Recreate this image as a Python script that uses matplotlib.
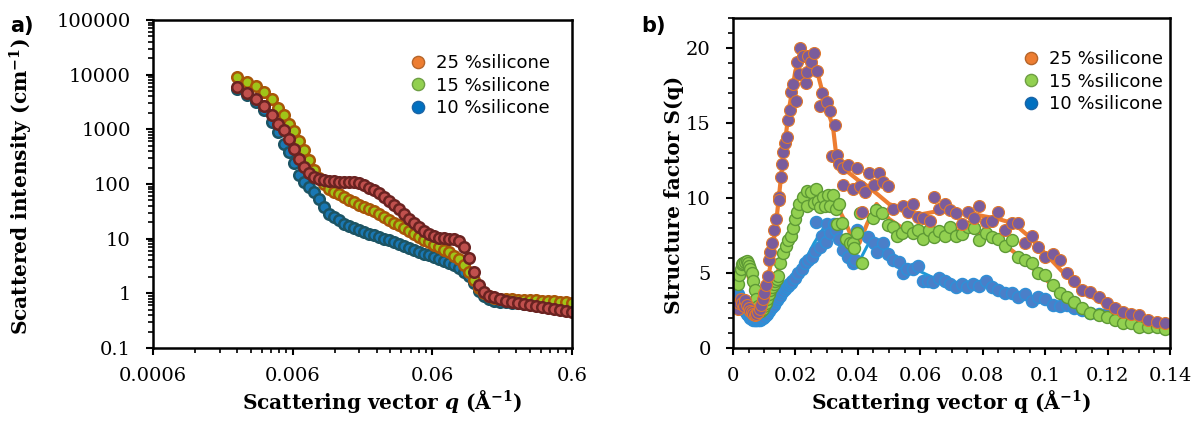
import matplotlib.pyplot as plt
from matplotlib.lines import Line2D
from matplotlib.ticker import FixedLocator, FixedFormatter, LogLocator, MultipleLocator, NullFormatter, FuncFormatter

plt.rcParams["mathtext.fontset"] = "custom"
plt.rcParams["mathtext.rm"] = "DejaVu Serif:bold"
plt.rcParams["mathtext.it"] = "DejaVu Serif:italic:bold"
plt.rcParams["mathtext.bf"] = "DejaVu Serif:bold"

labels = ["25 %silicone", "15 %silicone", "10 %silicone"]

# ---- panel a: scattered intensity vs q (log-log) ----
q_saxs = [0.0024, 0.00283, 0.00328, 0.00374, 0.00427, 0.00471, 0.0052, 0.00565, 0.00613, 0.00666,
          0.00723, 0.00785, 0.00853, 0.00926, 0.0101, 0.0109, 0.0119, 0.0129, 0.014, 0.0152,
          0.0165, 0.0179, 0.0194, 0.0211, 0.0229, 0.0249, 0.027, 0.0293, 0.0319, 0.0346,
          0.0376, 0.0408, 0.0443, 0.0481, 0.0522, 0.0567, 0.0616, 0.0669, 0.0726, 0.0789,
          0.0857, 0.093, 0.101, 0.11, 0.119, 0.129, 0.14, 0.153, 0.166, 0.183,
          0.202, 0.223, 0.246, 0.272, 0.3, 0.331, 0.365, 0.403, 0.445, 0.492, 0.543, 0.6]
I_25 = [5960, 4630, 3600, 2680, 1830, 1255, 975, 667, 438, 288,
        205, 160, 132, 121, 116, 114, 112, 109, 109, 109,
        107, 103, 94.3, 84.9, 76.4, 67.3, 56.9, 49.1, 41.5, 34.3,
        28.4, 23.0, 19.4, 16.4, 13.9, 12.0, 11.0, 10.3, 10.1, 9.92,
        9.71, 8.93, 7.08, 4.46, 2.47, 1.40, 1.07, 0.90, 0.845, 0.777,
        0.73, 0.685, 0.67, 0.643, 0.617, 0.591, 0.567, 0.543, 0.521, 0.50, 0.479, 0.46]
I_15 = [9080, 7360, 6220, 4830, 3600, 2460, 1800, 1230, 915, 614,
        420, 276, 181, 127, 98.3, 81.4, 71.7, 64.5, 58.1, 51.2,
        46.1, 41.5, 37.3, 34.3, 31.6, 27.8, 24.5, 21.6, 19.4, 17.5,
        15.4, 13.6, 12.0, 10.6, 9.31, 8.56, 7.70, 6.93, 6.11, 5.62,
        4.85, 4.27, 3.32, 2.42, 1.77, 1.26, 1.00, 0.882, 0.83, 0.79,
        0.777, 0.777, 0.76, 0.76, 0.745, 0.745, 0.73, 0.73, 0.714, 0.70, 0.685, 0.67]
I_10 = [5480, 4260, 3170, 2260, 1370, 896, 541, 386, 243, 147,
        109, 88.5, 71.7, 53.4, 38.1, 28.4, 24.5, 22.1, 18.3, 16.8,
        15.4, 14.2, 13.3, 12.2, 11.5, 10.8, 9.92, 9.31, 8.56, 7.87,
        7.39, 6.79, 6.24, 5.74, 5.27, 4.95, 4.55, 4.18, 3.85, 3.53,
        3.25, 2.93, 2.47, 2.09, 1.56, 1.11, 0.90, 0.777, 0.73, 0.70,
        0.685, 0.67, 0.656, 0.643, 0.629, 0.617, 0.617, 0.603, 0.591, 0.578, 0.567, 0.567]

# ---- panel b: structure factor S(q) ----
q_s25 = [0.0015, 0.002, 0.0025, 0.003, 0.0035, 0.004, 0.0045, 0.005, 0.0055, 0.006,
         0.0065, 0.007, 0.0075, 0.008, 0.0085, 0.009, 0.0095, 0.010, 0.0105,
         0.0111, 0.0115, 0.0119, 0.0124, 0.0131, 0.0138, 0.0146, 0.0148, 0.0153, 0.0156,
         0.0159, 0.0167, 0.0172, 0.0177, 0.0183, 0.0185, 0.0193, 0.0202, 0.0204, 0.021,
         0.0215, 0.0223, 0.0234, 0.0238, 0.0241, 0.025, 0.0261, 0.0268, 0.0279, 0.0284,
         0.0302, 0.0311, 0.0316, 0.0327, 0.0332, 0.0338, 0.0352, 0.0354, 0.037, 0.0386,
         0.0396, 0.0407, 0.0412, 0.0423, 0.0437, 0.0452, 0.0469, 0.0482, 0.0498, 0.0512,
         0.0544, 0.0562, 0.0578, 0.0594, 0.061, 0.063, 0.0644, 0.0661, 0.0679, 0.0695,
         0.0715, 0.0733, 0.0754, 0.0772, 0.0789, 0.0811, 0.0829, 0.085, 0.0872, 0.0893,
         0.0914, 0.0936, 0.0957, 0.0978, 0.1, 0.1025, 0.1048, 0.1071, 0.1093, 0.1117,
         0.1144, 0.1171, 0.1197, 0.1224, 0.1249, 0.1274, 0.1302, 0.1328, 0.1358, 0.1384]
S_25 = [2.6, 3.0, 3.3, 3.0, 2.8, 3.2, 2.9, 2.7, 2.5, 2.4,
        2.3, 2.2, 2.3, 2.4, 2.6, 2.9, 3.3, 3.7, 4.2,
        4.8, 5.9, 6.4, 7.0, 7.9, 8.6, 10.1, 9.9, 11.4, 12.3,
        13.1, 13.7, 14.1, 15.2, 15.9, 17.1, 17.6, 16.5, 19.1, 18.3,
        19.98, 19.5, 17.7, 18.4, 19.5, 19.1, 19.7, 18.5, 16.1, 17.0,
        16.4, 15.8, 12.8, 14.9, 12.9, 12.3, 10.9, 12.0, 12.2, 10.6,
        12.0, 10.8, 9.1, 10.4, 11.7, 10.9, 11.7, 11.1, 10.8, 9.3,
        9.5, 9.1, 9.6, 8.75, 8.65, 8.5, 10.1, 9.3, 9.6, 9.2,
        9.0, 8.3, 9.1, 8.7, 9.5, 8.4, 8.5, 9.1, 7.9, 8.35,
        8.35, 7.0, 7.5, 6.75, 6.1, 6.3, 5.9, 5.0, 4.5, 3.9,
        3.75, 3.4, 3.0, 2.65, 2.4, 2.25, 2.2, 1.9, 1.75, 1.65]

q_s15 = [0.0015, 0.002, 0.0025, 0.0028, 0.0033, 0.0038, 0.0044, 0.0048, 0.0052, 0.0056,
         0.006, 0.0065, 0.007, 0.0075, 0.008, 0.0085, 0.009, 0.0095, 0.010, 0.0105,
         0.011, 0.0115, 0.012, 0.0125, 0.013, 0.0135, 0.014, 0.0145, 0.0151, 0.0161,
         0.017, 0.0177, 0.0185, 0.0192, 0.0199, 0.0206, 0.0213, 0.0223, 0.0238, 0.0238,
         0.0249, 0.0258, 0.0266, 0.0273, 0.0279, 0.0289, 0.0295, 0.0305, 0.0311, 0.0321,
         0.033, 0.0332, 0.0341, 0.0348, 0.0362, 0.0375, 0.0384, 0.0388, 0.0396, 0.0407,
         0.0412, 0.0449, 0.0458, 0.0476, 0.0498, 0.0514, 0.0525, 0.054, 0.0559, 0.0578,
         0.0594, 0.061, 0.0629, 0.0644, 0.0661, 0.0679, 0.0695, 0.0715, 0.0733, 0.0754,
         0.0772, 0.0789, 0.0811, 0.0829, 0.085, 0.0872, 0.0893, 0.0914, 0.0936, 0.0957,
         0.0978, 0.1, 0.1025, 0.1046, 0.1069, 0.1093, 0.1117, 0.1144, 0.1171, 0.1197,
         0.1224, 0.1249, 0.1274, 0.1302, 0.1328, 0.1358, 0.1384]
S_15 = [4.3, 4.9, 5.3, 5.6, 5.7, 5.75, 5.8, 5.7, 5.5, 5.3,
        5.0, 4.5, 3.9, 3.3, 2.8, 2.6, 2.5, 2.6, 2.8, 3.0,
        3.3, 3.6, 3.9, 4.1, 4.3, 4.5, 4.6, 4.8, 5.65, 6.35,
        6.8, 7.2, 7.5, 8.0, 8.6, 9.1, 9.6, 10.1, 10.5, 9.45,
        10.4, 9.7, 10.6, 9.8, 9.4, 10.1, 9.5, 10.2, 9.5, 10.2,
        9.3, 8.3, 9.6, 8.35, 7.3, 7.0, 7.0, 6.65, 7.65, 9.0,
        5.65, 8.65, 9.2, 9.0, 8.2, 8.1, 7.5, 7.7, 8.05, 7.7,
        7.9, 7.3, 7.9, 7.4, 7.8, 7.5, 8.1, 7.5, 7.6, 8.05,
        8.0, 7.2, 7.7, 7.4, 7.3, 6.8, 7.2, 6.05, 5.9, 5.7,
        5.0, 4.9, 4.2, 3.7, 3.4, 3.1, 2.65, 2.35, 2.2, 2.1,
        1.9, 1.7, 1.65, 1.4, 1.4, 1.4, 1.3]

q_s10 = [0.0015, 0.002, 0.0025, 0.003, 0.0035, 0.004, 0.0045, 0.005, 0.0055, 0.006,
         0.0065, 0.007, 0.0075, 0.008, 0.0085, 0.009, 0.0095, 0.010, 0.0105, 0.011,
         0.0115, 0.012, 0.0125, 0.013, 0.0135, 0.014, 0.0145, 0.015, 0.0155, 0.016,
         0.0165, 0.017, 0.0175, 0.018, 0.0185, 0.019, 0.0199, 0.0209, 0.022, 0.0231,
         0.0241, 0.0252, 0.0263, 0.0265, 0.0279, 0.0284, 0.0298, 0.0302, 0.0311, 0.0322,
         0.033, 0.0338, 0.0354, 0.037, 0.0386, 0.039, 0.0396, 0.0434, 0.0452, 0.046,
         0.0482, 0.0495, 0.0514, 0.0533, 0.0546, 0.0557, 0.0576, 0.0594, 0.061, 0.0626,
         0.0642, 0.0661, 0.0679, 0.0695, 0.0715, 0.0733, 0.0751, 0.077, 0.0789, 0.0811,
         0.0829, 0.085, 0.0872, 0.0893, 0.0914, 0.0936, 0.0957, 0.0978, 0.1, 0.1025,
         0.1046, 0.1069, 0.1093, 0.1117, 0.1144, 0.1171, 0.1197, 0.1224, 0.125, 0.1274,
         0.13, 0.1328, 0.1358, 0.1384]
S_10 = [3.6, 3.4, 3.1, 2.9, 2.7, 2.5, 2.3, 2.15, 2.0, 1.95,
        1.9, 1.85, 1.85, 1.85, 1.9, 1.95, 2.0, 2.1, 2.2, 2.3,
        2.45, 2.6, 2.75, 2.9, 3.05, 3.2, 3.35, 3.5, 3.65, 3.8,
        3.95, 4.05, 4.15, 4.25, 4.35, 4.45, 4.65, 5.0, 5.3, 5.65,
        5.9, 6.1, 6.5, 8.4, 6.75, 7.5, 7.1, 8.3, 7.65, 8.3,
        7.9, 7.3, 6.55, 6.1, 5.65, 5.9, 7.9, 7.4, 7.0, 6.4,
        7.0, 6.3, 5.9, 5.75, 5.0, 5.3, 5.25, 5.5, 4.5, 4.5,
        4.4, 4.65, 4.5, 4.25, 4.1, 4.25, 4.1, 4.25, 4.15, 4.5,
        4.05, 3.9, 3.7, 3.65, 3.4, 3.6, 3.15, 3.4, 3.25, 2.9,
        2.8, 2.85, 2.7, 2.55, 2.35, 2.25, 2.3, 2.1, 1.95, 1.8,
        1.65, 1.55, 1.45, 1.4]

# smooth guide lines drawn under the markers
q_fit = [0.002, 0.004, 0.006, 0.008, 0.010, 0.012, 0.014, 0.016, 0.018, 0.020,
         0.022, 0.024, 0.026, 0.028, 0.030, 0.032, 0.033, 0.035, 0.037, 0.040,
         0.043, 0.046, 0.050, 0.055, 0.060, 0.065, 0.070, 0.075, 0.080, 0.085,
         0.090, 0.095, 0.100, 0.105, 0.110, 0.115, 0.120, 0.125, 0.130, 0.135, 0.140]
fit_25 = [3.2, 2.9, 2.6, 2.6, 3.5, 5.5, 8.7, 12.6, 16.0, 18.5,
          19.5, 19.6, 19.2, 17.6, 16.0, 14.8, 13.0, 12.2, 11.7, 11.2,
          10.8, 10.3, 9.6, 9.2, 8.9, 9.1, 9.1, 9.0, 8.8, 8.6,
          8.3, 7.4, 6.3, 5.2, 4.2, 3.4, 2.8, 2.4, 2.1, 1.8, 1.6]
q_fit15 = [0.002, 0.004, 0.006, 0.008, 0.010, 0.012, 0.014, 0.016, 0.018, 0.020,
           0.022, 0.025, 0.028, 0.031, 0.034, 0.036, 0.038, 0.0405, 0.043, 0.046,
           0.050, 0.055, 0.060, 0.065, 0.070, 0.075, 0.080, 0.085, 0.090, 0.095,
           0.100, 0.105, 0.110, 0.115, 0.120, 0.125, 0.130, 0.135, 0.140]
fit_15 = [4.8, 5.5, 4.0, 2.4, 3.0, 4.2, 4.8, 6.3, 7.5, 8.8,
          9.9, 10.3, 10.1, 9.8, 9.2, 8.4, 7.4, 7.0, 8.3, 9.6,
          8.6, 7.9, 7.8, 7.7, 7.8, 7.8, 7.6, 7.2, 6.4, 5.5,
          4.6, 3.7, 3.0, 2.5, 2.1, 1.8, 1.6, 1.45, 1.35]
q_fit10 = [0.002, 0.004, 0.006, 0.008, 0.010, 0.012, 0.015, 0.018, 0.020, 0.023,
           0.026, 0.029, 0.031, 0.034, 0.037, 0.0405, 0.044, 0.048, 0.052, 0.056,
           0.060, 0.065, 0.070, 0.075, 0.080, 0.085, 0.090, 0.095, 0.100, 0.105,
           0.110, 0.115, 0.120, 0.125, 0.130, 0.135, 0.140]
fit_10 = [3.4, 2.8, 2.2, 1.9, 2.0, 2.4, 3.2, 4.0, 4.8, 5.8,
          7.0, 8.0, 8.2, 7.4, 6.3, 5.8, 7.2, 6.8, 6.0, 5.4,
          5.1, 4.6, 4.3, 4.2, 4.2, 3.9, 3.6, 3.3, 3.1, 2.85,
          2.65, 2.4, 2.2, 2.0, 1.8, 1.6, 1.5]

serif = "DejaVu Serif"
tick_fs = 14
label_fs = 14.5

fig = plt.figure(figsize=(12.02, 4.23), dpi=100)
W, H = 1202.0, 423.0
ax_a = fig.add_axes([153 / W, 1 - 348 / H, 419 / W, 328 / H])
ax_b = fig.add_axes([733 / W, 1 - 348 / H, 437 / W, 330 / H])

# panel a markers: thick dark edges, overlapping into bands
mk = dict(marker="o", ls="none", ms=7.6, mew=1.8)
ax_a.plot(q_saxs, I_10, mfc="#1a78b4", mec="#1c5464", **mk)
ax_a.plot(q_saxs, I_15, mfc="#a0c418", mec="#a85608", **mk)
ax_a.plot(q_saxs, I_25, mfc="#c0504d", mec="#6a2321", **mk)

ax_a.set_xscale("log")
ax_a.set_yscale("log")
ax_a.set_xlim(0.0006, 0.6)
ax_a.set_ylim(0.1, 100000)
xmaj = [0.0006, 0.006, 0.06, 0.6]
ax_a.xaxis.set_major_locator(FixedLocator(xmaj))
ax_a.xaxis.set_major_formatter(FixedFormatter(["0.0006", "0.006", "0.06", "0.6"]))
ax_a.xaxis.set_minor_locator(FixedLocator([m * k for m in xmaj[:3] for k in range(2, 10)]))
ax_a.xaxis.set_minor_formatter(NullFormatter())
ymaj = [0.1, 1, 10, 100, 1000, 10000, 100000]
ax_a.yaxis.set_major_locator(FixedLocator(ymaj))
ax_a.yaxis.set_major_formatter(FixedFormatter(["0.1", "1", "10", "100", "1000", "10000", "100000"]))
ax_a.yaxis.set_minor_locator(LogLocator(base=10, subs=range(2, 10)))
ax_a.yaxis.set_minor_formatter(NullFormatter())

# panel b
ax_b.plot(q_fit10, fit_10, color="#1e9ad6", lw=2.2, zorder=1)
ax_b.plot(q_fit15, fit_15, color="#ed7d31", lw=3, zorder=1)
ax_b.plot(q_fit, fit_25, color="#ed7d31", lw=3, zorder=1)
mk_b = dict(marker="o", ls="none", ms=8.6, zorder=2)
ax_b.plot(q_s10, S_10, mfc="#4a7fc9", mec="#2f8fd6", mew=1.1, **mk_b)
ax_b.plot(q_s15, S_15, mfc="#92d050", mec="#5e9a35", mew=1.0, **mk_b)
ax_b.plot(q_s25, S_25, mfc="#7a5c9c", mec="#e0782c", mew=0.8, **mk_b)
ax_b.set_xlim(0, 0.14)
ax_b.set_ylim(0, 22)
ax_b.xaxis.set_major_locator(MultipleLocator(0.02))
ax_b.xaxis.set_minor_locator(MultipleLocator(0.005))
ax_b.xaxis.set_major_formatter(FuncFormatter(lambda v, p: "%g" % round(v, 4)))
ax_b.yaxis.set_major_locator(FixedLocator([0, 5, 10, 15, 20]))
ax_b.yaxis.set_minor_locator(MultipleLocator(1))

for ax in (ax_a, ax_b):
    for sp in ax.spines.values():
        sp.set_linewidth(1.8)
        sp.set_color("black")
    ax.tick_params(which="major", direction="out", length=5, width=1.5, labelsize=tick_fs)
    ax.tick_params(which="minor", direction="out", length=3.5, width=1.2)
    ax.tick_params(axis="y", which="major", pad=11)
    ax.tick_params(axis="x", which="major", pad=9)
    for t in ax.get_xticklabels() + ax.get_yticklabels():
        t.set_family(serif)

ax_a.set_xlabel(r"Scattering vector $\mathit{q}$ (Å$^{-1}$)", fontsize=label_fs,
                fontweight="bold", family=serif)
ax_a.set_ylabel(r"Scattered intensity (cm$^{-1}$)", fontsize=label_fs,
                fontweight="bold", family=serif)
ax_b.set_xlabel(r"Scattering vector q (Å$^{-1}$)", fontsize=label_fs,
                fontweight="bold", family=serif)
ax_b.set_ylabel("Structure factor S(q)", fontsize=label_fs, fontweight="bold", family=serif)
ax_a.xaxis.set_label_coords((382 - 153) / 419, (348 - 388) / 328)
ax_a.yaxis.set_label_coords((35 - 153) / 419, (348 - 187) / 328)
ax_b.xaxis.set_label_coords(0.5, (348 - 388) / 330)
ax_b.yaxis.set_label_coords((684 - 733) / 437, (348 - 195) / 330)

fig.text(10 / W, 1 - 26 / H, "a)", fontsize=15, fontweight="bold", va="center")
fig.text(641 / W, 1 - 26 / H, "b)", fontsize=15, fontweight="bold", va="center")

# legends (the colours shown in the legend differ from the plotted marks)
leg_colors = [("#ed7d31", "#b5652a"), ("#92d050", "#6e9e44"), ("#0070c0", "#1a64a6")]
handles = [Line2D([], [], marker="o", ls="none", ms=8.8, mfc=f, mec=e, mew=1.0)
           for f, e in leg_colors]
for ax, x0, y0 in ((ax_a, 400, 45), (ax_b, 1013, 41)):
    ax.legend(handles, labels, loc="upper left", bbox_to_anchor=(x0 / W, 1 - y0 / H),
              bbox_transform=fig.transFigure, frameon=False, borderpad=0,
              handlelength=1.0, handletextpad=0.5, labelspacing=0.25,
              prop={"family": "DejaVu Sans", "size": 13})

fig.savefig("out.png", dpi=100)
